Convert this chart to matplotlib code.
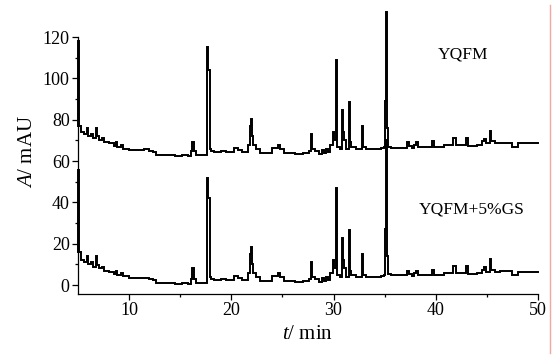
import matplotlib
matplotlib.use("Agg")
import matplotlib.pyplot as plt
from matplotlib.lines import Line2D
from matplotlib.ticker import FixedLocator

plt.rcParams['font.family'] = ['Liberation Serif', 'DejaVu Serif']
plt.rcParams['mathtext.fontset'] = 'custom'
plt.rcParams['mathtext.rm'] = 'Liberation Serif'
plt.rcParams['mathtext.it'] = 'Liberation Serif:italic'

# retention time (min), shared by both chromatograms (step breakpoints)
t_min = [5.00, 5.00, 5.06, 5.3, 5.6, 5.9, 6.0, 6.3, 6.5, 6.8, 6.9, 7.1, 7.3, 7.5, 8.0, 8.5,
         8.7, 8.8, 9.2, 9.4, 10.0, 11.5, 11.9, 12.3, 12.6, 14.5, 15.2, 15.8, 16.1, 16.2,
         16.35, 16.5, 17.6, 17.7, 17.9, 18.0, 18.3, 19.0, 19.5, 20.3, 20.7, 21.0, 21.6,
         21.8, 21.9, 22.0, 22.1, 22.4, 22.8, 24.0, 24.6, 24.8, 25.2, 26.2, 27.0, 27.6,
         27.8, 27.9, 28.2, 28.6, 28.9, 29.1, 29.3, 29.5, 29.7, 29.9, 30.0, 30.2, 30.3,
         30.6, 30.8, 30.9, 31.0, 31.2, 31.5, 31.6, 31.7, 32.2, 32.8, 32.9, 33.2, 34.6,
         34.9, 35.0, 35.1, 35.2, 35.35, 35.6, 37.2, 37.4, 37.7, 37.9, 38.1, 38.3, 39.6,
         39.8, 40.8, 41.7, 42.0, 43.0, 43.2, 44.0, 44.5, 44.7, 44.9, 45.3, 45.45, 45.8,
         46.3, 47.5, 48.0, 50.0]

# absorbance (mAU), YQFM (offset trace)
a_yqfm = [77, 118, 77, 74, 73, 76, 72, 73, 71, 76, 72, 70, 71, 69, 68.5, 67.5,
          69, 67, 68, 66, 65.5, 66, 65, 64.5, 63, 62.5, 63, 62.5, 65, 69,
          65, 63, 115, 104, 66, 65, 64.5, 65, 64.5, 66.5, 65.5, 64.5, 68,
          77, 80.5, 72, 68, 66, 64, 66.5, 68, 66, 64, 63.5, 64, 65,
          73, 66, 65, 63.5, 65.5, 64, 66, 64.5, 68, 74, 70, 109, 67,
          66, 84.5, 74, 70, 66, 88.5, 69, 67, 66, 77, 67, 66, 66.5,
          67, 89, 132, 76, 67, 66.5, 69, 67.5, 66.5, 68, 69, 67, 69.5,
          67, 68, 71, 68, 71, 67.5, 68, 69.5, 70.5, 68.5, 74.5, 69.5, 68.5,
          68.6, 67, 68.6, 68.6]

# absorbance (mAU), YQFM + 5% GS
a_gs = [16, 55.5, 16, 12, 11, 14, 10, 11, 8.7, 14, 9.5, 8, 8.5, 7, 6.3, 5.5,
        7, 5, 5.8, 4.2, 3.2, 3.6, 2.8, 2.3, 1.0, 0.5, 1.0, 0.5, 3, 8,
        3, 1, 52, 42, 4, 3, 2.5, 3, 2.5, 4.5, 3.5, 2.5, 6,
        15, 18.4, 10, 6, 4, 2, 4.5, 6, 4, 2, 1.5, 2, 3,
        11, 4, 3, 1.5, 3.5, 2, 4, 2.5, 6, 12, 8, 47, 5,
        4, 22.7, 12, 8, 4, 26.6, 7, 5, 4, 15, 5, 4, 4.5,
        5, 27, 70, 14, 5.5, 5, 7, 5.5, 4.5, 6, 7, 5, 7.5,
        5, 6, 9, 6, 9, 5.5, 6, 7.5, 8.5, 6.5, 12.5, 7.5, 6.5,
        6.6, 5, 6.3, 6.3]

x_ticks = [10, 20, 30, 40, 50]
y_ticks = [0, 20, 40, 60, 80, 100, 120]

fig = plt.figure(figsize=(5.55, 3.58), dpi=100)
ax = fig.add_axes([78/555, (358-294)/358, (538-78)/555, (294-10)/358])

for y in (a_yqfm, a_gs):
    ax.plot(t_min, y, drawstyle='steps-post', color='black', lw=1.4,
            solid_joinstyle='miter', clip_on=False)

ax.set_xlim(5, 50)
ax.set_ylim(-4.35, 133.1)
ax.spines['top'].set_visible(False)
ax.spines['right'].set_visible(False)
ax.spines['left'].set_bounds(-4.35, 120)
for s in ('left', 'bottom'):
    ax.spines[s].set_linewidth(0.9)

ax.set_xticks(x_ticks)
ax.set_yticks(y_ticks)
ax.xaxis.set_minor_locator(FixedLocator([15, 25, 35, 45]))
ax.yaxis.set_minor_locator(FixedLocator([10, 30, 50, 70, 90, 110]))
ax.tick_params(which='major', direction='out', length=4, width=0.9, labelsize=13, pad=2)
ax.tick_params(which='minor', direction='out', length=2.2, width=0.9)

ax.set_xlabel(r'$\mathit{t}$/ min', fontsize=15, labelpad=4)
ax.set_ylabel(r'$\mathit{A}$/ mAU', fontsize=15, labelpad=4)

ax.text(0.836, 0.842, 'YQFM', transform=ax.transAxes, ha='center', va='center', fontsize=12.5)
ax.text(0.855, 0.296, 'YQFM+5%GS', transform=ax.transAxes, ha='center', va='center', fontsize=12.5)

fig.add_artist(Line2D([550/555, 550/555], [0.015, 0.985], transform=fig.transFigure,
                      color='#f4a6a6', lw=1.0))

fig.savefig('out.png', dpi=100)
